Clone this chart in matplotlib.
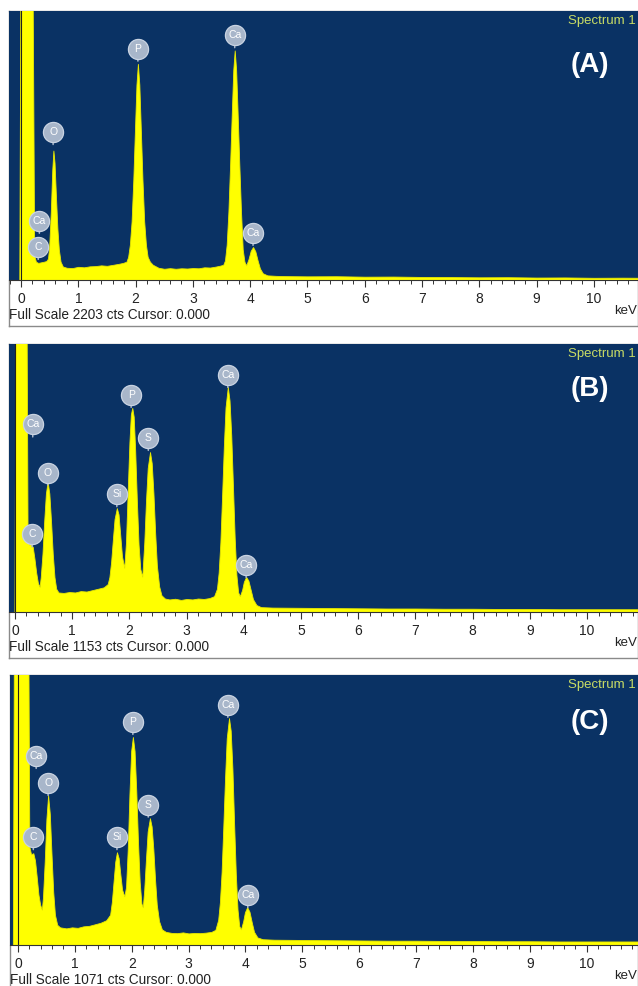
import matplotlib.pyplot as plt
from matplotlib.ticker import MultipleLocator

plt.rcParams['font.family'] = ['Liberation Sans', 'DejaVu Sans']

# ---- spectrum (A), counts vs keV ----
kev_a = [-0.21, -0.03, -0.01, 0.20, 0.23, 0.26, 0.30, 0.35, 0.40, 0.44, 0.47,
         0.49, 0.52, 0.545, 0.565, 0.585, 0.61, 0.635, 0.66, 0.69, 0.73,
         0.8, 0.9, 1.0, 1.1, 1.2, 1.3, 1.4, 1.5, 1.6, 1.7, 1.78,
         1.84, 1.87, 1.90, 1.93, 1.96, 1.99, 2.015, 2.04, 2.065, 2.09, 2.12, 2.15,
         2.18, 2.21, 2.25, 2.30,
         2.4, 2.5, 2.6, 2.7, 2.8, 2.9, 3.0, 3.1, 3.2, 3.3, 3.4, 3.48,
         3.53, 3.56, 3.59, 3.62, 3.65, 3.68, 3.705, 3.73, 3.755, 3.78, 3.81, 3.84,
         3.87, 3.90, 3.93,
         3.97, 4.01, 4.05, 4.09, 4.13, 4.17, 4.22, 4.3, 4.45,
         4.6, 5.0, 5.5, 6.0, 6.5, 7.0, 7.5, 8.0, 8.5, 9.0, 9.5, 10.0, 10.5, 10.9]
cts_a = [0, 0, 2600, 2600, 200, 150, 140, 145, 150, 155, 175,
         260, 560, 900, 1060, 960, 680, 420, 250, 150, 110,
         100, 98, 108, 104, 112, 114, 120, 116, 124, 132, 140,
         150, 190, 290, 480, 820, 1250, 1600, 1770, 1600, 1250, 820, 480,
         290, 190, 150, 125,
         100, 92, 97, 92, 96, 94, 98, 96, 104, 102, 110, 118,
         125, 160, 290, 560, 950, 1380, 1720, 1880, 1720, 1380, 950, 560,
         250, 150, 120,
         170, 240, 270, 235, 160, 95, 55, 38, 34,
         32, 30, 31, 27, 28, 25, 24, 22, 23, 20, 21, 18, 19, 18]

# ---- spectrum (B) ----
kev_b = [-0.11, -0.01, 0.01, 0.20, 0.22, 0.25, 0.28, 0.31, 0.34, 0.37, 0.40, 0.43,
         0.45, 0.48, 0.51, 0.54, 0.57, 0.60, 0.63, 0.66, 0.69, 0.72, 0.76,
         0.85, 0.95, 1.05, 1.15, 1.25, 1.35, 1.45, 1.55, 1.62,
         1.65, 1.68, 1.71, 1.74, 1.78, 1.81, 1.84, 1.87, 1.91,
         1.94, 1.97, 2.00, 2.025, 2.05, 2.075, 2.10, 2.13, 2.16, 2.19, 2.225,
         2.26, 2.29, 2.32, 2.36, 2.39, 2.42, 2.45, 2.48, 2.52, 2.56, 2.62,
         2.7, 2.8, 2.9, 3.0, 3.1, 3.2, 3.3, 3.4, 3.48,
         3.53, 3.56, 3.59, 3.62, 3.65, 3.68, 3.72, 3.75, 3.78, 3.81, 3.84, 3.87,
         3.90, 3.93,
         3.97, 4.00, 4.04, 4.08, 4.12, 4.16, 4.22, 4.3,
         4.5, 5.0, 5.5, 6.0, 6.5, 7.0, 7.5, 8.0, 8.5, 9.0, 9.5, 10.0, 10.5, 10.9]
cts_b = [0, 0, 1400, 1400, 320, 290, 292, 280, 230, 170, 125, 108,
         150, 250, 390, 510, 560, 510, 390, 250, 150, 100, 84,
         82, 86, 84, 90, 88, 94, 100, 106, 120,
         150, 215, 310, 400, 447, 420, 330, 240, 190,
         300, 520, 730, 850, 878, 840, 700, 480, 290, 185, 152,
         300, 480, 620, 688, 640, 510, 340, 200, 110, 72, 58,
         54, 57, 52, 56, 54, 58, 56, 60, 68,
         100, 170, 300, 500, 710, 880, 968, 910, 760, 540, 320, 160,
         85, 68,
         95, 130, 151, 135, 95, 55, 30, 21,
         19, 18, 17, 16, 15, 15, 14, 14, 13, 13, 12, 12, 12, 12]

# ---- spectrum (C) ----
kev_c = [-0.14, -0.09, -0.07, 0.18, 0.20, 0.23, 0.27, 0.30, 0.33, 0.36, 0.39, 0.42,
         0.44, 0.47, 0.50, 0.53, 0.56, 0.59, 0.62, 0.65, 0.69, 0.74,
         0.85, 0.95, 1.05, 1.15, 1.25, 1.35, 1.45, 1.55, 1.62,
         1.65, 1.68, 1.71, 1.74, 1.77, 1.80, 1.83, 1.87,
         1.90, 1.93, 1.96, 1.99, 2.02, 2.05, 2.08, 2.11, 2.14, 2.17, 2.195,
         2.22, 2.25, 2.28, 2.32, 2.35, 2.38, 2.41, 2.44, 2.48, 2.53, 2.6,
         2.7, 2.8, 2.9, 3.0, 3.1, 3.2, 3.3, 3.4, 3.47,
         3.52, 3.55, 3.58, 3.61, 3.64, 3.67, 3.71, 3.74, 3.77, 3.80, 3.83, 3.86,
         3.89, 3.92,
         3.96, 3.99, 4.03, 4.07, 4.11, 4.15, 4.21, 4.3,
         4.5, 5.0, 5.5, 6.0, 6.5, 7.0, 7.5, 8.0, 8.5, 9.0, 9.5, 10.0, 10.5, 10.9]
cts_c = [0, 0, 1300, 1300, 390, 360, 364, 335, 270, 200, 160, 140,
         190, 330, 500, 594, 520, 360, 210, 120, 80, 70,
         66, 70, 68, 74, 76, 82, 88, 98, 120,
         170, 250, 330, 368, 345, 280, 220, 193,
         230, 380, 600, 770, 825, 770, 610, 410, 250, 165, 150,
         220, 340, 450, 503, 470, 380, 260, 160, 95, 62, 52,
         48, 47, 50, 46, 48, 47, 49, 52, 60,
         100, 170, 290, 470, 660, 820, 900, 850, 700, 480, 280, 140,
         75, 62,
         95, 130, 150, 132, 90, 52, 30, 23,
         21, 20, 19, 18, 17, 17, 16, 16, 15, 15, 14, 14, 14, 14]

full_scale = [2203, 1153, 1071]
panel_tags = ['(A)', '(B)', '(C)']

# element markers: symbol, keV, counts of marker centre
lbl_a = ['C', 'Ca', 'O', 'P', 'Ca', 'Ca']
lbl_kev_a = [0.30, 0.32, 0.56, 2.04, 3.73, 4.05]
lbl_cts_a = [271, 485, 1212, 1895, 2005, 386]

lbl_b = ['Ca', 'C', 'O', 'Si', 'P', 'S', 'Ca', 'Ca']
lbl_kev_b = [0.31, 0.30, 0.57, 1.78, 2.03, 2.33, 3.72, 4.04]
lbl_cts_b = [807, 334, 600, 507, 934, 749, 1020, 202]

lbl_c = ['Ca', 'C', 'O', 'Si', 'P', 'S', 'Ca', 'Ca']
lbl_kev_c = [0.32, 0.27, 0.53, 1.74, 2.02, 2.29, 3.69, 4.04]
lbl_cts_c = [750, 428, 643, 428, 885, 557, 953, 198]

spectra = [(kev_a, cts_a, lbl_a, lbl_kev_a, lbl_cts_a),
           (kev_b, cts_b, lbl_b, lbl_kev_b, lbl_cts_b),
           (kev_c, cts_c, lbl_c, lbl_kev_c, lbl_cts_c)]

NAVY = '#0a3264'
YELLOW = '#ffff00'
MARK = '#a8b6ca'

W, H = 638, 986
fig = plt.figure(figsize=(W / 100, H / 100), dpi=100)

# pixel layout: left, blue top, axis line, frame bottom, xmin, xmax, tag offset
boxes = [(9, 11, 280, 326, -0.21, 10.77, 54),
         (9, 344, 612, 658, -0.105, 10.89, 45),
         (10, 675, 945, 990, -0.14, 10.9, 47)]


def fig_y(py):
    return 1 - py / H


for i, (left, top, axis_y, bottom, x0, x1, tag_dy) in enumerate(boxes):
    kev, cts, lbl, lbl_kev, lbl_cts = spectra[i]

    # white frame with grey border
    frame = fig.add_axes([left / W, fig_y(bottom), (W - left) / W, (bottom - top) / H])
    frame.set_xticks([])
    frame.set_yticks([])
    frame.set_facecolor('white')
    for s in frame.spines.values():
        s.set_color('#8a8a8a')
        s.set_linewidth(1.0)

    ax = fig.add_axes([left / W, fig_y(axis_y), (W - left) / W, (axis_y - top) / H])
    ax.set_facecolor(NAVY)
    ax.fill_between(kev, cts, 0, color=YELLOW, lw=0.6, edgecolor='#e8e800')
    ax.axvline(0, color='#202020', lw=0.8)
    ax.set_xlim(x0, x1)
    ax.set_ylim(0, full_scale[i])

    for el, xk, yc in zip(lbl, lbl_kev, lbl_cts):
        ax.annotate('', xy=(xk, yc), xytext=(0, -11), textcoords='offset points',
                    arrowprops=dict(arrowstyle='-', color=MARK, lw=1.1))
        ax.plot(xk, yc, 'o', ms=14.5, mfc=MARK, mec='#c9d3e2', mew=0.9, zorder=5)
        ax.text(xk, yc, el, ha='center', va='center', fontsize=7.5,
                color='white', zorder=6)

    ax.xaxis.set_major_locator(MultipleLocator(1))
    ax.xaxis.set_minor_locator(MultipleLocator(0.2))
    ax.tick_params(axis='x', which='major', direction='out', length=5, width=0.8,
                   color='#333333', labelsize=10, pad=3.5, labelcolor='#222222')
    ax.tick_params(axis='x', which='minor', direction='out', length=3, width=0.7,
                   color='#333333')
    ax.set_yticks([])
    for side in ['top', 'left', 'right']:
        ax.spines[side].set_visible(False)
    ax.spines['bottom'].set_color('#333333')
    ax.spines['bottom'].set_linewidth(0.8)

    fig.text(636 / W, fig_y(top + 10), 'Spectrum 1', ha='right', va='center',
             fontsize=9.5, color='#c8dc64')
    fig.text(590 / W, fig_y(top + tag_dy), panel_tags[i], ha='center', va='center',
             fontsize=20, fontweight='bold', color='white')
    fig.text((left + 0) / W, fig_y(axis_y + 35), 'Full Scale %d cts Cursor: 0.000' % full_scale[i],
             ha='left', va='center', fontsize=9.8, color='#222222')
    fig.text(637 / W, fig_y(axis_y + 31), 'keV', ha='right', va='center',
             fontsize=9.5, color='#222222')

fig.savefig('out.png', dpi=100)
